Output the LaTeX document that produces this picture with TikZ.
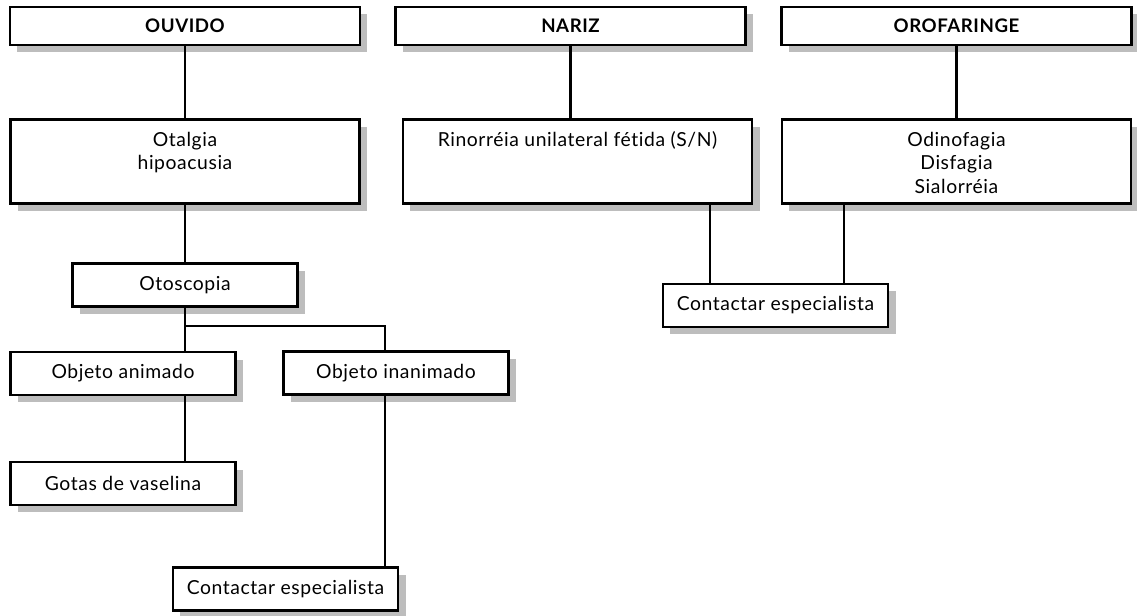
\documentclass[tikz,border=0pt]{standalone}
\usepackage{fontspec}
\setmainfont{Lato}[LetterSpace=3, Ligatures=NoCommon]
\usetikzlibrary{positioning}
\usetikzlibrary{shadows}
\definecolor{sombra}{HTML}{BDBDBD}
\newcommand{\topo}[1]{\parbox[t][44pt][t]{250pt}{\centering #1}}
\newcommand{\letra}{\fontsize{14.5}{17.6}\selectfont}
\tikzset {
  % caixa com sombra cinza
  caixa/.style = {draw, line width=1.9pt, fill=white, font=\letra,
    drop shadow={fill=sombra, opacity=1, shadow xshift=5.5pt, shadow yshift=-5.5pt}},
  % titulos de cima
  cabeca/.style = {caixa, minimum width=262.5pt, minimum height=28.5pt, font=\fontsize{14}{17}\selectfont\bfseries},
  % sintomas, texto no alto
  sintoma/.style = {caixa, anchor=north, inner xsep=6pt, inner ysep=9.5pt},
  % caixas pequenas
  conduta/.style = {caixa, minimum width=169pt, minimum height=32pt},
  linha/.style = {line width=1.7pt},
}

\begin{document}
\begin{tikzpicture}[x=0.75pt, y=-0.75pt]
        \useasboundingbox (0,0) rectangle (1137,616);

        \node[cabeca] (ouvido) at (185,26) {OUVIDO};
        \node[cabeca] (nariz) at (570.5,26) {NARIZ};
        \node[cabeca] (orofaringe) at (956.5,26) {OROFARINGE};

        \node[sintoma] (otalgia) at (185,118) {\topo{Otalgia\\hipoacusia}};
        \node[sintoma] (rinorreia) at (577.5,118) {\topo{Rinorréia unilateral fétida (S/N)}};
        \node[sintoma] (odinofagia) at (956.5,118) {\topo{Odinofagia\\Disfagia\\Sialorréia}};

        \node[conduta] (otoscopia) at (185,285) {Otoscopia};
        \node[conduta] (animado) at (123,373.5) {Objeto animado};
        \node[conduta] (inanimado) at (396,373) {Objeto inanimado};
        \node[conduta] (vaselina) at (123,483.5) {Gotas de vaselina};
        \node[conduta] (especialistaA) at (285.5,589) {Contactar especialista};
        \node[conduta] (especialistaB) at (775.5,305.5) {Contactar especialista};

        \draw[linha] (ouvido) -- (otalgia);
        \draw[linha] (otalgia) -- (otoscopia);
        \draw[linha] (otoscopia.south) -- (animado.north -| otoscopia.south);
        \draw[linha] (otoscopia.south |- 0,326) -| (inanimado.north -| 385,0);
        \draw[linha] (animado.south -| otoscopia.south) -- (vaselina.north -| otoscopia.south);
        \draw[linha] (inanimado.south -| 385,0) -- (especialistaA.north -| 385,0);

        \draw[linha] (nariz.south) -- (rinorreia.north -| nariz.south);
        \draw[linha] (orofaringe) -- (odinofagia);
        \draw[linha] (rinorreia.south -| 710,0) -- (especialistaB.north -| 710,0);
        \draw[linha] (odinofagia.south -| 844,0) -- (especialistaB.north -| 844,0);
\end{tikzpicture}
\end{document}
